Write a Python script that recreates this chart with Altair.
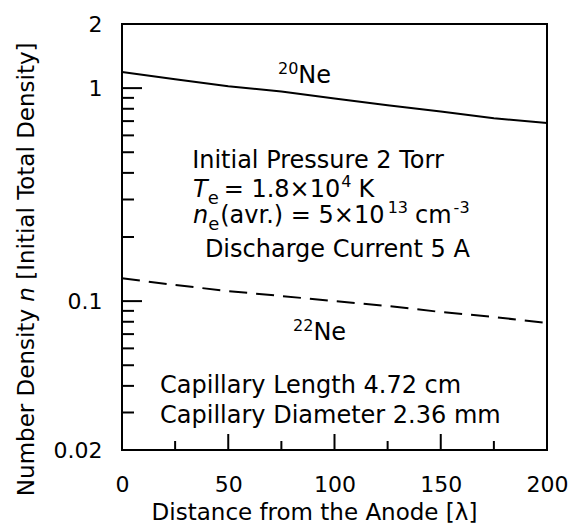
import altair as alt
import pandas as pd

# ---------------- data ----------------
x_pos = [0, 25, 50, 75, 100, 125, 150, 175, 200]
ne20 = [1.19, 1.10, 1.02, 0.964, 0.894, 0.832, 0.776, 0.722, 0.686]
ne22 = [0.128, 0.119, 0.1115, 0.1057, 0.100, 0.0949, 0.0889, 0.0842, 0.0789]

x_labels = [0, 50, 100, 150, 200]
y_labels = [0.02, 0.1, 1, 2]
x_major = [50, 100, 150]
x_minor = [25, 75, 125, 175]
y_major = [0.1, 1]
y_minor = [0.03, 0.04, 0.05, 0.06, 0.07, 0.08, 0.09,
           0.2, 0.3, 0.4, 0.5, 0.6, 0.7, 0.8, 0.9]

# annotation anchors (data coordinates) and their text runs
# run = (text, fontSize, style, dy, gap_before_px)
annotations = [
    (73.4, 1.057, [("20", 16, "normal", -9, 0), ("Ne", 24, "normal", 0, 0)]),
    (80.5, 0.0657, [("22", 16, "normal", -9, 0), ("Ne", 24, "normal", 0, 0)]),
    (33.0, 0.422, [("Initial Pressure 2 Torr", 24, "normal", 0, 0)]),
    (33.4, 0.308, [("T", 24, "italic", 0, 0), ("e", 18, "normal", 7, 0),
                   ("= 1.8×10", 24, "normal", 0, 5), ("4", 16, "normal", -10, 1),
                   ("K", 24, "normal", 0, 7)]),
    (33.4, 0.233, [("n", 24, "italic", 0, 0), ("e", 18, "normal", 7, 0),
                   ("(avr.) = 5×10", 24, "normal", 0, 1), ("13", 16, "normal", -10, 1),
                   ("cm", 24, "normal", 0, 7), ("-3", 16, "normal", -10, 2)]),
    (39.0, 0.161, [("Discharge Current 5 A", 24, "normal", 0, 0)]),
    (17.9, 0.0370, [("Capillary Length 4.72 cm", 24, "normal", 0, 0)]),
    (17.9, 0.0268, [("Capillary Diameter 2.36 mm", 24, "normal", 0, 0)]),
]

# DejaVu Sans advance widths (per 1000 em)
WID = {' ': 318, '(': 390, ')': 390, '.': 318, '=': 838, '-': 361, '×': 838,
       'A': 684, 'C': 698, 'D': 770, 'I': 295, 'K': 656, 'L': 557, 'N': 748,
       'P': 603, 'T': 611, 'a': 613, 'c': 550, 'd': 635, 'e': 615, 'g': 635,
       'h': 634, 'i': 278, 'l': 278, 'm': 974, 'n': 634, 'o': 612, 'p': 635,
       'r': 411, 's': 521, 't': 392, 'u': 634, 'v': 592, 'y': 592, '[': 390, ']': 390}
for d in "0123456789":
    WID[d] = 636


def tw(s, fs):
    return sum(WID.get(c, 600) for c in s) * fs / 1000.0


W, H = 425, 426
FONT = "DejaVu Sans"

xs = alt.Scale(domain=[0, 200], nice=False, zero=False)
ys = alt.Scale(type="log", domain=[0.02, 2], nice=False)

df = pd.DataFrame({"x": x_pos, "ne20": ne20, "ne22": ne22})

xaxis = alt.Axis(values=x_labels, title="Distance from the Anode [λ]", grid=False,
                 domain=False, ticks=False, tickSize=0, labelFontSize=22,
                 labelPadding=41, labelBaseline="alphabetic", labelFlush=False,
                 labelOverlap=False, labelFont=FONT, labelColor="black",
                 titleFont=FONT, titleFontSize=23, titleFontWeight="normal",
                 titleColor="black", titleX=192, titleY=69,
                 titleBaseline="alphabetic", titleAlign="center")
yaxis = alt.Axis(values=y_labels, format="~g", title="", grid=False,
                 domain=False, ticks=False, tickSize=0, labelFontSize=22,
                 labelPadding=20, labelFlush=False, labelOverlap=False,
                 labelFont=FONT, labelColor="black", labelBaseline="middle")


def X(field):
    return alt.X(field, scale=xs, axis=xaxis)


def Y(field):
    return alt.Y(field, scale=ys, axis=yaxis)


l20 = alt.Chart(df).mark_line(color="black", strokeWidth=2).encode(
    x=X("x:Q"), y=Y("ne20:Q"))
l22 = alt.Chart(df).mark_line(color="black", strokeWidth=2, strokeDash=[18, 9]).encode(
    x=X("x:Q"), y=Y("ne22:Q"))

layers = [l20, l22]


# tick marks (inward)
def yticks(vals, length):
    return alt.Chart(pd.DataFrame({"v": vals})).mark_rule(color="black", strokeWidth=2).encode(
        y=Y("v:Q"), x=alt.value(0), x2=alt.value(length))


def xticks(vals, length):
    return alt.Chart(pd.DataFrame({"v": vals})).mark_rule(color="black", strokeWidth=2).encode(
        x=X("v:Q"), y=alt.value(H), y2=alt.value(H - length))


layers += [yticks(y_major, 20), yticks(y_minor, 12), xticks(x_major, 16), xticks(x_minor, 9)]

# annotations
for xa, ya, runs in annotations:
    dx = 0.0
    for txt, fs, style, dy, gap in runs:
        dx += gap
        layers.append(
            alt.Chart(pd.DataFrame({"x": [xa], "y": [ya], "t": [txt]})).mark_text(
                align="left", baseline="alphabetic", dx=dx, dy=dy, fontSize=fs,
                fontStyle=style, font=FONT, color="black").encode(
                x=X("x:Q"), y=Y("y:Q"), text="t:N"))
        dx += tw(txt, fs)

# y-axis title with italic n (rotated runs)
YT_FS = 23
yt_x = -95
a1 = 285
sp = tw(" ", YT_FS)
ytitle_runs = [
    ("Number Density", "normal", "right", a1),
    ("n", "italic", "left", a1 - sp),
    ("[Initial Total Density]", "normal", "left", a1 - sp - tw("n", YT_FS) - sp),
]
for txt, style, al, yy in ytitle_runs:
    layers.append(
        alt.Chart(pd.DataFrame({"t": [txt]})).mark_text(
            angle=270, align=al, baseline="middle", fontSize=YT_FS,
            fontStyle=style, font=FONT, color="black").encode(
            x=alt.value(yt_x), y=alt.value(yy), text="t:N"))

chart = alt.layer(*layers).properties(
    width=W, height=H,
    autosize=alt.AutoSizeParams(type="none"),
    padding={"left": 122, "top": 24, "right": 29, "bottom": 81},
    background="white",
).configure_view(stroke="black", strokeWidth=2)

chart.save("out.html", embed_options={"renderer": "svg", "actions": False})
